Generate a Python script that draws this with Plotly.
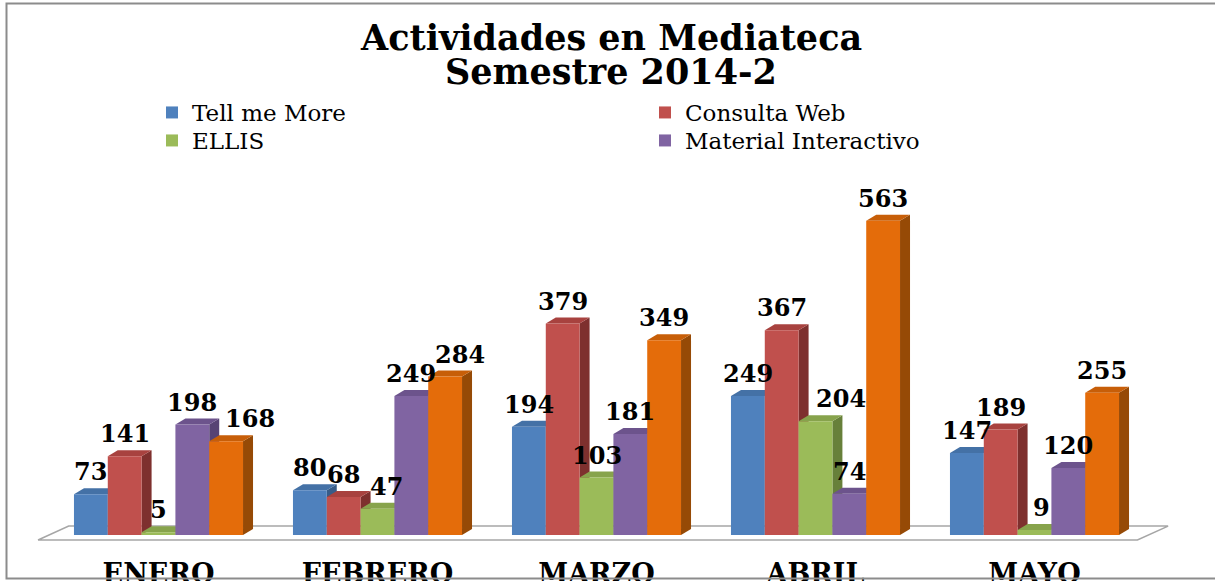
import plotly.graph_objects as go

# ---------------- data ----------------
meses = ["ENERO", "FEBRERO", "MARZO", "ABRIL", "MAYO"]
tell_me_more = [73, 80, 194, 249, 147]
consulta_web = [141, 68, 379, 367, 189]
ellis = [5, 47, 103, 204, 9]
material_interactivo = [198, 249, 181, 74, 120]
serie_5 = [168, 284, 349, 563, 255]   # orange series (legend entry not visible)

series_names = ["Tell me More", "Consulta Web", "ELLIS", "Material Interactivo", "Serie 5"]
series_values = [tell_me_more, consulta_web, ellis, material_interactivo, serie_5]

# ---------------- style ----------------
front_colors = ["#4F81BD", "#C0504D", "#9BBB59", "#8064A2", "#E46C0A"]
top_colors = ["#4471A6", "#A8423F", "#87A34C", "#6C538C", "#C75E08"]
side_colors = ["#375C88", "#7E302E", "#67803A", "#574374", "#964A06"]
legend_ref = ["legend", "legend2", "legend3", "legend4", None]
# legend boxes: (left px, top px) in figure pixels
legend_pos = {"legend": (152, 91), "legend2": (645, 91),
              "legend3": (152, 119), "legend4": (645, 119)}
# label nudges (pixels) used by the original to avoid label collisions: (category, series) -> dx
label_nudge = {(0, 4): 24, (1, 2): 9, (1, 4): 15, (3, 2): 25, (4, 2): 7}

W, H = 1215, 581
ML, MR, MT, MB = 23, 32, 178, 35
PW, PH = W - ML - MR, H - MT - MB
CAT0_PX = 158.5          # pixel centre of first category
PX_PER_CAT = 219.0
BASE_PX = 535.0          # pixel of value 0
PX_PER_UNIT = 0.558

x_lo = (ML - CAT0_PX) / PX_PER_CAT
x_hi = x_lo + PW / PX_PER_CAT
y_lo = -((MT + PH) - BASE_PX) / PX_PER_UNIT
y_hi = (BASE_PX - MT) / PX_PER_UNIT

BARGAP = 0.228
n_series = len(series_values)
bar_w = (1 - BARGAP) / n_series
DX = 10 / PX_PER_CAT     # 3D depth in x units
DY = 6 / PX_PER_UNIT     # 3D depth in y units

FONT = "DejaVu Serif"


def xp(px):
    return (px - ML) / PW


def yp(py):
    return (MT + PH - py) / PH


x_idx = list(range(len(meses)))

fig = go.Figure()
shapes = []
annotations = []

# floor of the 3D chart
fx0, fx1 = -0.55, 4.47
fy0 = -9
fdx, fdy = 0.14, 25
shapes.append(dict(
    type="path", xref="x", yref="y", layer="below",
    path=f"M{fx0},{fy0} L{fx1},{fy0} L{fx1+fdx},{fy0+fdy} L{fx0+fdx},{fy0+fdy} Z",
    fillcolor="white", line=dict(color="#A6A6A6", width=1.5)))

for c in x_idx:
    for i in range(n_series):
        v = series_values[i][c]
        xl = c - (1 - BARGAP) / 2 + i * bar_w
        xr = xl + bar_w
        # side face
        shapes.append(dict(
            type="path", xref="x", yref="y", layer="below",
            path=f"M{xr},0 L{xr+DX},{DY} L{xr+DX},{v+DY} L{xr},{v} Z",
            fillcolor=side_colors[i], line=dict(width=0)))
        # top face
        shapes.append(dict(
            type="path", xref="x", yref="y", layer="below",
            path=f"M{xl},{v} L{xl+DX},{v+DY} L{xr+DX},{v+DY} L{xr},{v} Z",
            fillcolor=top_colors[i], line=dict(width=0)))
        annotations.append(dict(
            x=(xl + xr) / 2, y=v + DY, xref="x", yref="y",
            text=str(v), showarrow=False, yanchor="bottom", yshift=0,
            xshift=label_nudge.get((c, i), 0),
            font=dict(family=FONT, size=24, color="black", weight="bold")))

for i in range(n_series):
    tr = dict(
        x=x_idx, y=series_values[i], name=series_names[i],
        marker=dict(color=front_colors[i], line=dict(width=0)),
        hoverinfo="x+y+name")
    if legend_ref[i] is None:
        tr["showlegend"] = False
    else:
        tr["legend"] = legend_ref[i]
    fig.add_trace(go.Bar(**tr))

# chart border
shapes.append(dict(
    type="rect", xref="paper", yref="paper",
    x0=xp(6.5), x1=xp(1240), y0=yp(578.5), y1=yp(3.5),
    line=dict(color="#8C8C8C", width=2), fillcolor="rgba(0,0,0,0)"))

# title
annotations.append(dict(
    x=xp(610.5), y=yp(37), xref="paper", yref="paper", showarrow=False,
    text="Actividades en Mediateca", yanchor="middle",
    font=dict(family=FONT, size=35, color="black", weight="bold")))
annotations.append(dict(
    x=xp(610.5), y=yp(71), xref="paper", yref="paper", showarrow=False,
    text="Semestre 2014-2", yanchor="middle",
    font=dict(family=FONT, size=35, color="black", weight="bold")))

legend_font = dict(family=FONT, size=23, color="black")
legends = {}
for name, (lx, ly) in legend_pos.items():
    legends[name] = dict(xref="container", yref="container", x=lx / W, y=1 - ly / H,
                         xanchor="left", yanchor="top", font=legend_font,
                         bgcolor="rgba(0,0,0,0)")

fig.update_layout(
    width=W, height=H,
    margin=dict(l=ML, r=MR, t=MT, b=MB, pad=0, autoexpand=False),
    paper_bgcolor="white", plot_bgcolor="white",
    barmode="group", bargap=BARGAP, bargroupgap=0,
    shapes=shapes, annotations=annotations,
    xaxis=dict(range=[x_lo, x_hi], tickvals=x_idx, ticktext=meses,
               showgrid=False, zeroline=False, showline=False, ticks="",
               ticklabelstandoff=9, tickangle=0, automargin=False,
               tickfont=dict(family=FONT, size=27, color="black", weight="bold")),
    yaxis=dict(range=[y_lo, y_hi], visible=False, showgrid=False, zeroline=False,
               automargin=False),
    showlegend=True,
    **legends,
)

fig.write_html("out.html",
               config={"displayModeBar": False},
               post_script="document.body.style.margin='0px';"
                           "document.body.style.overflow='hidden';")
